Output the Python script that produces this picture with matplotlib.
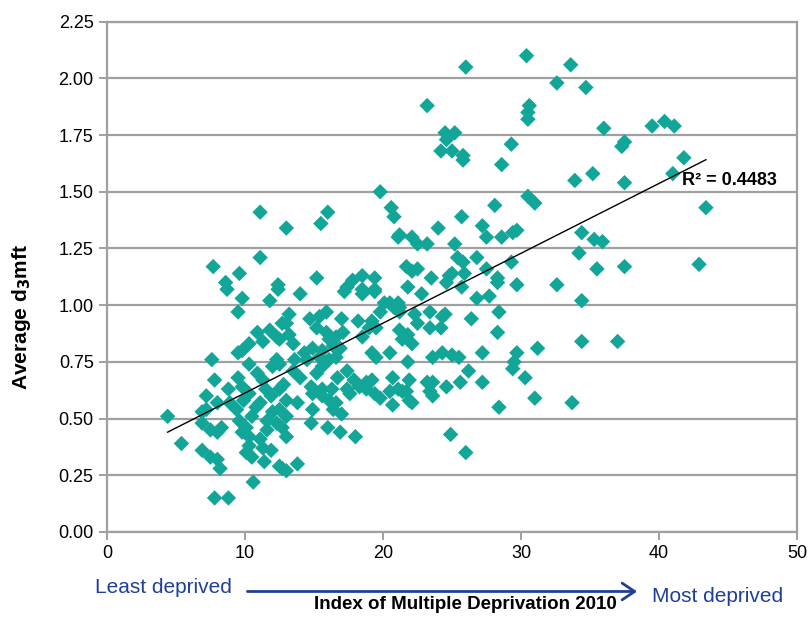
import numpy as np
import matplotlib
matplotlib.use("Agg")
import matplotlib.pyplot as plt
from matplotlib.patches import FancyArrowPatch

plt.rcParams['font.family'] = ['Liberation Sans', 'DejaVu Sans']

# IMD score (x) and average d3mft (y)
imd = [
    30.4, 33.6, 26.0, 32.6, 34.7, 23.2, 30.6, 30.5, 30.5, 36.0, 39.5, 40.4, 41.1,
    24.5, 25.2, 24.6, 24.2, 25.0, 25.8, 25.8, 29.3, 37.5, 37.3, 28.6, 41.8, 41.0, 33.9, 35.2, 37.5,
    43.4, 28.1, 30.5, 31.0, 25.7, 27.2, 27.5, 28.6, 29.4, 29.7, 25.2, 34.4, 35.3, 35.9, 34.2, 26.8,
    25.4, 25.8, 29.3, 35.5, 37.5, 42.9, 25.0, 27.5, 28.3,
    24.0, 22.1, 22.5, 23.2, 21.2, 21.7, 22.1, 23.5, 21.8, 22.8, 21.2, 22.3, 23.4, 24.5,
    24.6, 25.7, 24.8, 25.9, 28.3, 29.7, 32.6, 26.8, 27.7, 34.4, 24.3, 24.2, 26.4, 28.4, 28.3, 34.4,
    37.0, 24.3, 25.0, 25.5, 27.2, 29.7, 29.5, 29.4, 31.2, 26.2, 30.3, 24.6, 25.6, 27.2, 31.0, 28.4,
    33.7, 24.9, 26.0,
    22.5, 23.4, 21.4, 22.1, 21.8, 23.6, 23.2, 23.6, 23.4, 23.6, 21.7, 22.1, 22.5,
    19.8, 20.6, 20.8, 21.1, 11.1, 13.0, 16.0, 15.5, 11.1, 7.7, 8.6, 9.6, 17.4, 17.8, 18.5, 19.4,
    18.5, 19.4, 15.2, 14.0, 12.4, 20.1, 20.8, 21.2,
    17.2, 18.5, 19.4,
    13.2, 13.0, 14.7, 15.4, 15.9, 15.2, 17.0, 18.2, 19.2, 19.8, 20.5, 21.1,
    12.5, 13.2, 13.5, 15.9, 16.1, 16.6, 17.1, 18.5, 19.0, 19.5, 21.2, 21.8,
    14.9, 15.6, 16.4, 16.9, 14.3, 14.5, 13.6, 15.4, 16.1, 16.6, 19.2, 19.5, 20.5,
    12.5, 13.5, 14.0, 15.6, 15.2, 17.4, 16.7, 17.9, 18.8, 19.2, 20.7, 21.9,
    12.5, 14.8, 15.6, 16.3, 17.4, 18.3, 18.8, 19.4, 20.5, 21.1,
    13.0, 13.8, 12.5, 13.0, 12.7, 13.0, 14.9, 15.6, 14.9, 14.8, 16.1, 16.6, 16.4, 17.0, 16.0, 16.9,
    18.0, 17.6, 19.8, 20.7, 21.9, 21.4, 12.7, 13.8,
    8.7, 9.8, 11.8, 12.4, 9.5, 10.9, 11.8, 10.3, 11.3, 12.3, 12.7, 7.6, 9.5, 9.8, 10.3, 12.0, 12.3,
    7.8, 9.5, 11.3, 8.8, 9.8, 10.3, 7.2,
    4.4, 5.4, 7.2, 6.9, 8.0, 8.9, 7.5, 8.0, 8.3, 6.9, 7.5, 8.0, 8.2, 9.4, 9.6, 10.1, 10.3, 9.8,
    10.3, 10.5, 10.1, 10.6, 11.1, 11.6, 11.6, 11.1, 11.3, 11.9, 11.4, 12.5, 13.0, 12.3, 7.8, 8.8,
    10.8, 11.9, 12.0, 10.5, 9.9, 12.8, 11.5, 10.9, 6.9,
]
d3mft = [
    2.10, 2.06, 2.05, 1.98, 1.96, 1.88, 1.88, 1.85, 1.82, 1.78, 1.79, 1.81, 1.79,
    1.76, 1.76, 1.73, 1.68, 1.68, 1.66, 1.64, 1.71, 1.72, 1.70, 1.62, 1.65, 1.58, 1.55, 1.58, 1.54,
    1.43, 1.44, 1.48, 1.45, 1.39, 1.35, 1.30, 1.30, 1.32, 1.33, 1.27, 1.32, 1.29, 1.28, 1.23, 1.21,
    1.21, 1.19, 1.19, 1.16, 1.17, 1.18, 1.14, 1.16, 1.12,
    1.34, 1.30, 1.27, 1.27, 1.31, 1.17, 1.15, 1.12, 1.08, 1.05, 0.99, 0.96, 0.97, 0.96,
    1.10, 1.08, 1.13, 1.14, 1.10, 1.09, 1.09, 1.03, 1.04, 1.02, 0.95, 0.90, 0.94, 0.97, 0.88, 0.84,
    0.84, 0.79, 0.78, 0.77, 0.79, 0.79, 0.75, 0.72, 0.81, 0.71, 0.68, 0.64, 0.66, 0.66, 0.59, 0.55,
    0.57, 0.43, 0.35,
    0.92, 0.90, 0.85, 0.83, 0.75, 0.77, 0.66, 0.66, 0.62, 0.60, 0.62, 0.57, 1.16,
    1.50, 1.43, 1.39, 1.30, 1.41, 1.34, 1.41, 1.36, 1.21, 1.17, 1.10, 1.14, 1.08, 1.11, 1.13, 1.12,
    1.07, 1.07, 1.12, 1.05, 1.09, 1.01, 0.99, 0.97,
    1.06, 1.05, 1.06,
    0.96, 0.92, 0.94, 0.95, 0.97, 0.90, 0.94, 0.93, 0.93, 0.97, 1.01, 1.01,
    0.85, 0.87, 0.83, 0.88, 0.85, 0.86, 0.88, 0.86, 0.90, 0.90, 0.89, 0.87,
    0.81, 0.80, 0.82, 0.81, 0.79, 0.76, 0.76, 0.77, 0.76, 0.77, 0.79, 0.77, 0.79,
    0.74, 0.71, 0.68, 0.73, 0.70, 0.71, 0.68, 0.67, 0.66, 0.67, 0.68, 0.67,
    0.63, 0.64, 0.63, 0.63, 0.63, 0.64, 0.63, 0.61, 0.62, 0.63,
    0.58, 0.57, 0.54, 0.51, 0.46, 0.42, 0.61, 0.60, 0.54, 0.48, 0.58, 0.57, 0.54, 0.52, 0.46, 0.44,
    0.42, 0.61, 0.59, 0.56, 0.58, 0.62, 0.28, 0.30,
    1.07, 1.03, 1.02, 1.07, 0.97, 0.88, 0.89, 0.83, 0.84, 0.86, 0.92, 0.76, 0.79, 0.80, 0.74, 0.73, 0.76,
    0.67, 0.68, 0.67, 0.63, 0.64, 0.61, 0.60,
    0.51, 0.39, 0.54, 0.48, 0.57, 0.57, 0.45, 0.44, 0.46, 0.36, 0.33, 0.32, 0.28, 0.54, 0.49, 0.46, 0.42, 0.44,
    0.38, 0.33, 0.35, 0.22, 0.57, 0.49, 0.45, 0.41, 0.37, 0.36, 0.31, 0.29, 0.27, 0.48, 0.15, 0.15,
    0.55, 0.60, 0.53, 0.51, 0.58, 0.65, 0.63, 0.70, 0.53,
]

x_ticks = [0, 10, 20, 30, 40, 50]
y_ticks = [0.00, 0.25, 0.50, 0.75, 1.00, 1.25, 1.50, 1.75, 2.00, 2.25]

x = np.array(imd)
y = np.array(d3mft)

fig = plt.figure(figsize=(8.1, 6.2), dpi=100)
ax = fig.add_axes([0.132, 0.142, 0.852, 0.823])

ax.set_xlim(0, 50)
ax.set_ylim(0, 2.25)
ax.set_xticks(x_ticks)
ax.set_yticks(y_ticks)
ax.set_yticklabels([f'{v:.2f}' for v in y_ticks])
ax.yaxis.grid(True, color='#a0a0a0', linewidth=1.6)
ax.set_axisbelow(True)
for s in ax.spines.values():
    s.set_color('#a0a0a0')
    s.set_linewidth(1.6)
ax.tick_params(colors='#a0a0a0', width=1.4, length=6, labelcolor='black', labelsize=13)

ax.scatter(x, y, marker='D', s=62, color='#12a699', edgecolors='none', zorder=3)

# linear trend line
slope, intercept = np.polyfit(x, y, 1)
xl = np.array([x.min(), x.max()])
ax.plot(xl, slope * xl + intercept, color='black', linewidth=1.0, zorder=4)
ax.text(41.7, 1.55, 'R² = 0.4483', fontsize=13, fontweight='bold', ha='left', va='center', zorder=5)

fig.text(0.026, 0.489, 'Average d$_\\mathbf{3}$mft', fontsize=15, fontweight='bold',
         rotation=90, ha='center', va='center')

fig.text(0.574, 0.012, 'Index of Multiple Deprivation 2010', fontsize=13.5, fontweight='bold',
         ha='center', va='bottom')
blue = '#1f3f98'
fig.text(0.117, 0.052, 'Least deprived', fontsize=15, color=blue, ha='left', va='center')
fig.text(0.805, 0.038, 'Most deprived', fontsize=15, color=blue, ha='left', va='center')
arr = FancyArrowPatch((0.302, 0.046), (0.79, 0.046), transform=fig.transFigure,
                      arrowstyle='->,head_length=9,head_width=6', color=blue, linewidth=2)
fig.patches.append(arr)

fig.savefig('out.png', dpi=100)
